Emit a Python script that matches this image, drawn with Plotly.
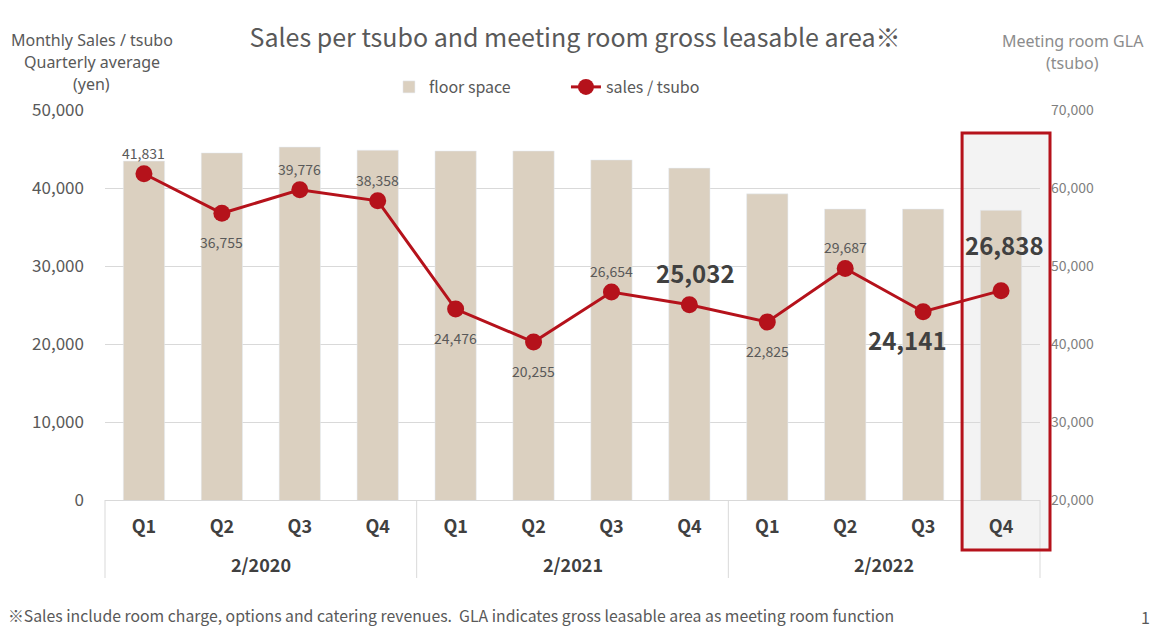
import plotly.graph_objects as go

# ---- data ----
years = ["2/2020", "2/2021", "2/2022"]
quarters = ["Q1", "Q2", "Q3", "Q4"]
floor_space = [63450, 64500, 65250, 64850, 64750, 64750, 63600, 62550, 59250, 57300, 57300, 57150]
sales_tsubo = [41831, 36755, 39776, 38358, 24476, 20255, 26654, 25032, 22825, 29687, 24141, 26838]
label_pos = ["above", "below", "above", "above", "below", "below", "above", "above", "below", "above", "below", "above"]
big_label = [False] * 7 + [True, False, False, True, True]
left_title = ["Monthly Sales / tsubo", "Quarterly average", "(yen)"]
right_title = ["Meeting room GLA", "(tsubo)"]

cats = [q for _ in years for q in quarters]
xs = list(range(len(cats)))

RED = "#b5121b"
BEIGE = "#dbd0c0"
FONT = "Noto Sans CJK JP"
TFONT = "Noto Sans"

fig = go.Figure()
fig.add_trace(go.Bar(x=xs, y=floor_space, name="floor space", marker_color=BEIGE,
                     width=0.53, yaxis="y"))
fig.add_trace(go.Scatter(x=xs, y=sales_tsubo, name="sales / tsubo", mode="lines+markers",
                         line=dict(color=RED, width=3), marker=dict(color=RED, size=17),
                         yaxis="y2"))

annotations = []
for i, v in enumerate(sales_tsubo):
    up = label_pos[i] == "above"
    if big_label[i]:
        annotations.append(dict(x=i, y=v, xref="x", yref="y2", text=f"<b>{v:,}</b>",
                                showarrow=False, font=dict(size=24, color="#404040", family=FONT),
                                yshift=(32 if i == 7 else 46) if up else -28,
                                xshift=(6 if i == 7 else 3) if up else -16))
    else:
        annotations.append(dict(x=i, y=v, xref="x", yref="y2", text=f"{v:,}",
                                showarrow=False, font=dict(size=14, color="#595959", family=FONT),
                                yshift=21 if up else -29))

# year group labels
for g, yr in enumerate(years):
    annotations.append(dict(x=g * 4 + 1.5, y=-0.164, xref="x", yref="paper", text=f"<b>{yr}</b>",
                            xanchor="center", yanchor="middle",
                            showarrow=False, font=dict(size=18, color="#404040", family=FONT)))

# axis titles, one annotation per line
for k, t in enumerate(left_title):
    annotations.append(dict(x=-0.014, y=(500 - (40 + 22 * k)) / 390, xref="paper", yref="paper",
                            showarrow=False, xanchor="center", yanchor="middle", text=t,
                            borderpad=0, font=dict(size=16, color="#595959", family=TFONT)))
for k, t in enumerate(right_title):
    annotations.append(dict(x=1.035, y=(500 - (41 + 22 * k)) / 390, xref="paper", yref="paper",
                            showarrow=False, xanchor="center", yanchor="middle", text=t,
                            borderpad=0, font=dict(size=16, color="#8c8c8c", family=TFONT)))

annotations += [
    dict(x=-0.1059, y=-0.295, xref="paper", yref="paper", showarrow=False,
         xanchor="left", yanchor="middle",
         text="※Sales include room charge, options and catering revenues.  GLA indicates gross leasable area as meeting room function",
         font=dict(size=15.8, color="#595959", family=FONT)),
    dict(x=1.113, y=-0.30, xref="paper", yref="paper", showarrow=False,
         xanchor="center", yanchor="middle",
         text="1", font=dict(size=16, color="#595959", family=FONT)),
]

shapes = [
    dict(type="rect", xref="paper", yref="paper", x0=11 / 12, x1=1.0107, y0=-0.128, y1=0.941,
         fillcolor="#f3f3f3", line=dict(width=0), layer="below"),
    dict(type="rect", xref="paper", yref="paper", x0=11 / 12, x1=1.0107, y0=-0.128, y1=0.941,
         fillcolor="rgba(0,0,0,0)", line=dict(color=RED, width=3), layer="above"),
]
for b in [0, 4 / 12, 8 / 12, 1]:
    shapes.append(dict(type="line", xref="paper", yref="paper", x0=b, x1=b, y0=0, y1=-0.2,
                       line=dict(color="#d9d9d9", width=1), layer="below"))

fig.update_layout(
    width=1150, height=634,
    margin=dict(l=105, r=110, t=110, b=134),
    paper_bgcolor="white", plot_bgcolor="rgba(0,0,0,0)",
    font=dict(family=FONT, color="#595959"),
    title=dict(text="Sales per tsubo and meeting room gross leasable area※", x=0.5, xanchor="center",
               y=1 - 38 / 634, yanchor="middle", font=dict(size=25, color="#595959", family=FONT)),
    showlegend=True,
    legend=dict(orientation="h", x=0.493, xanchor="center", y=1.059, yanchor="middle",
                entrywidth=132, entrywidthmode="pixels",
                font=dict(size=16, color="#595959", family=FONT), bgcolor="rgba(0,0,0,0)"),
    xaxis=dict(range=[-0.5, 11.5], tickvals=xs, ticktext=[f"<b>{c}</b>" for c in cats],
               tickfont=dict(size=18, color="#404040", family=FONT), showgrid=False,
               showline=True, linecolor="#d9d9d9", linewidth=1, zeroline=False,
               ticks="", ticklabelstandoff=10),
    yaxis=dict(range=[20000, 70000], dtick=10000, side="right", tickformat=",",
               tickfont=dict(size=14, color="#7f7f7f", family=FONT), showgrid=True,
               gridcolor="#d9d9d9", zeroline=False, ticklabelstandoff=10),
    yaxis2=dict(range=[0, 50000], dtick=10000, side="left", overlaying="y", tickformat=",",
                tickfont=dict(size=17, color="#595959", family=FONT), showgrid=False,
                zeroline=False, ticklabelstandoff=20),
    bargap=0.47,
    annotations=annotations,
    shapes=shapes,
)

fig.write_html("out.html")
